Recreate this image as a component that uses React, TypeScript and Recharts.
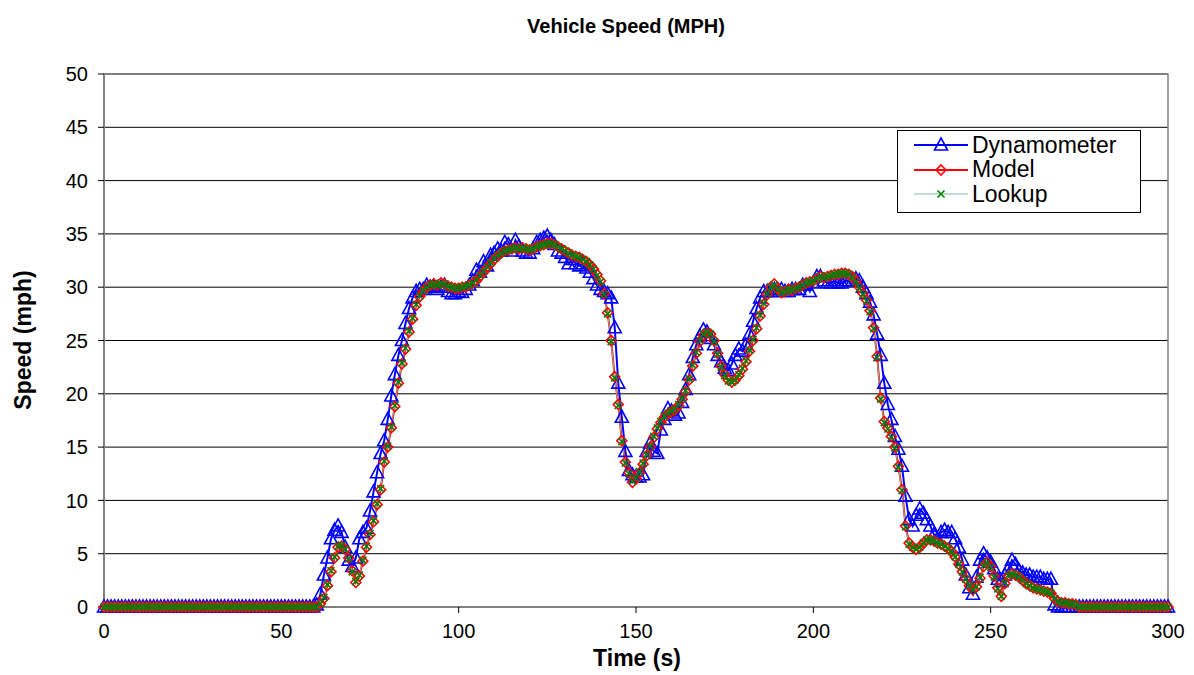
import React from "react"
import { LineChart, Line, XAxis, YAxis, CartesianGrid, ReferenceArea } from "recharts"

// speed samples, one per second, t = 0 .. 300
const times = Array.from({ length: 301 }, (_, i) => i)

const dynamometer = [
  0, 0, 0, 0, 0, 0, 0, 0, 0, 0,
  0, 0, 0, 0, 0, 0, 0, 0, 0, 0,
  0, 0, 0, 0, 0, 0, 0, 0, 0, 0,
  0, 0, 0, 0, 0, 0, 0, 0, 0, 0,
  0, 0, 0, 0, 0, 0, 0, 0, 0, 0,
  0, 0, 0, 0, 0, 0, 0, 0, 0, 0,
  0.2, 1.2, 3.0, 4.6, 6.4, 7.2, 7.6, 7.0, 5.6, 4.4,
  3.8, 4.6, 6.4, 7.0, 7.4, 9.0, 10.8, 12.6, 14.4, 15.6,
  17.6, 19.8, 21.8, 23.6, 25.0, 26.6, 28.0, 29.0, 29.6, 29.8,
  29.8, 30.2, 30.0, 30.1, 29.8, 30.0, 30.2, 29.6, 29.4, 29.4,
  29.6, 29.5, 29.8, 30.2, 30.6, 31.6, 31.4, 32.4, 32.0, 33.0,
  33.2, 33.6, 33.4, 34.2, 34.0, 33.4, 34.4, 33.8, 33.4, 33.2,
  33.2, 33.6, 34.2, 34.4, 34.6, 34.8, 34.4, 34.0, 33.4, 33.2,
  32.8, 32.2, 32.6, 32.2, 32.0, 32.2, 31.8, 31.4, 30.8, 30.2,
  29.8, 29.6, 29.4, 29.0, 26.2, 21.0, 17.8, 14.6, 12.8, 12.4,
  12.2, 12.2, 12.4, 14.6, 15.4, 14.6, 14.4, 16.6, 17.6, 18.6,
  18.4, 18.0, 18.2, 19.2, 20.4, 21.8, 23.4, 24.6, 25.4, 26.0,
  25.8, 25.2, 24.6, 23.6, 23.0, 22.4, 22.2, 22.8, 23.6, 24.2,
  24.0, 24.6, 25.6, 26.8, 28.0, 29.0, 29.6, 29.6, 29.6, 29.8,
  29.6, 29.8, 29.6, 29.6, 29.8, 29.8, 29.8, 30.2, 30.2, 29.6,
  30.4, 31.0, 31.0, 30.6, 30.4, 30.4, 30.6, 30.4, 30.4, 30.6,
  30.6, 30.6, 30.8, 30.6, 30.0, 29.4, 28.6, 27.4, 25.6, 23.6,
  21.0, 19.0, 17.6, 16.0, 14.8, 13.2, 10.4, 8.2, 7.6, 8.6,
  9.2, 8.8, 8.2, 7.6, 6.8, 6.4, 7.0, 7.2, 7.0, 7.0,
  6.4, 5.6, 4.4, 3.0, 1.8, 1.2, 2.8, 4.4, 5.0, 4.6,
  4.2, 3.6, 2.6, 2.4, 3.0, 3.6, 4.4, 4.0, 3.4, 3.2,
  3.0, 3.0, 2.8, 2.8, 2.8, 2.6, 2.6, 2.6, 0.2, 0,
  0, 0, 0, 0, 0, 0, 0, 0, 0, 0,
  0, 0, 0, 0, 0, 0, 0, 0, 0, 0,
  0, 0, 0, 0, 0, 0, 0, 0, 0, 0,
  0,
]

const model = [
  0, 0, 0, 0, 0, 0, 0, 0, 0, 0,
  0, 0, 0, 0, 0, 0, 0, 0, 0, 0,
  0, 0, 0, 0, 0, 0, 0, 0, 0, 0,
  0, 0, 0, 0, 0, 0, 0, 0, 0, 0,
  0, 0, 0, 0, 0, 0, 0, 0, 0, 0,
  0, 0, 0, 0, 0, 0, 0, 0, 0, 0,
  0, 0.3, 0.8, 2.0, 3.3, 4.6, 5.6, 5.7, 5.4, 4.6,
  3.4, 2.3, 2.9, 4.3, 5.6, 6.8, 8.0, 9.6, 11.0, 13.6,
  15.0, 16.8, 18.8, 21.0, 22.8, 24.2, 25.8, 27.0, 28.3, 29.1,
  29.6, 30.0, 30.2, 30.3, 30.2, 30.4, 30.3, 30.1, 30.0, 29.9,
  29.9, 30.0, 30.0, 30.2, 30.4, 30.6, 31.0, 31.4, 31.8, 32.2,
  32.6, 32.9, 33.2, 33.4, 33.5, 33.6, 33.7, 33.6, 33.7, 33.6,
  33.5, 33.6, 33.8, 33.9, 34.0, 34.1, 34.1, 34.0, 33.8, 33.6,
  33.4, 33.2, 33.0, 32.9, 32.8, 32.6, 32.4, 32.1, 31.7, 31.2,
  30.6, 29.4, 27.6, 25.0, 21.6, 19.0, 15.6, 13.6, 12.6, 11.7,
  12.0, 12.6, 13.4, 14.2, 15.0, 15.9, 16.7, 17.3, 17.8, 18.1,
  18.3, 18.5, 18.9, 19.5, 20.2, 21.3, 22.6, 23.8, 24.9, 25.5,
  25.7, 25.6, 25.0, 23.8, 22.6, 21.8, 21.3, 21.1, 21.3, 21.7,
  22.3, 23.0, 24.0, 25.0, 26.1, 27.3, 28.4, 29.3, 30.0, 30.3,
  29.8, 29.5, 29.6, 29.8, 29.7, 29.9, 30.0, 30.2, 30.4, 30.5,
  30.6, 30.8, 31.0, 30.9, 31.0, 31.1, 31.2, 31.2, 31.3, 31.3,
  31.2, 31.0, 30.6, 30.0, 29.4, 28.8, 27.8, 26.2, 23.5, 19.6,
  17.4, 16.8, 16.0, 15.0, 13.2, 11.0, 7.6, 6.0, 5.6, 5.4,
  5.6, 6.0, 6.3, 6.3, 6.2, 6.0, 5.9, 5.7, 5.5, 5.2,
  4.7, 4.0, 3.3, 2.6, 2.0, 1.6, 1.9, 2.7, 3.8, 4.2,
  3.8, 2.9, 1.8, 1.0, 2.2, 2.9, 3.1, 3.0, 2.8, 2.5,
  2.2, 2.0, 1.8, 1.7, 1.6, 1.5, 1.4, 1.3, 0.8, 0.5,
  0.4, 0.4, 0.3, 0.3, 0.2, 0, 0, 0, 0, 0,
  0, 0, 0, 0, 0, 0, 0, 0, 0, 0,
  0, 0, 0, 0, 0, 0, 0, 0, 0, 0,
  0,
]

const lookup = [
  0, 0, 0, 0, 0, 0, 0, 0, 0, 0,
  0, 0, 0, 0, 0, 0, 0, 0, 0, 0,
  0, 0, 0, 0, 0, 0, 0, 0, 0, 0,
  0, 0, 0, 0, 0, 0, 0, 0, 0, 0,
  0, 0, 0, 0, 0, 0, 0, 0, 0, 0,
  0, 0, 0, 0, 0, 0, 0, 0, 0, 0,
  0, 0.3, 0.9, 2.1, 3.4, 4.7, 5.7, 5.8, 5.4, 4.5,
  3.3, 2.4, 3.0, 4.4, 5.7, 6.9, 8.1, 9.7, 11.1, 13.7,
  15.1, 16.9, 18.9, 21.1, 22.9, 24.3, 25.9, 27.1, 28.4, 29.2,
  29.7, 30.0, 30.2, 30.3, 30.2, 30.3, 30.3, 30.1, 30.0, 29.9,
  29.9, 30.0, 30.1, 30.2, 30.4, 30.7, 31.1, 31.5, 31.9, 32.3,
  32.7, 33.0, 33.2, 33.4, 33.5, 33.6, 33.7, 33.6, 33.7, 33.6,
  33.5, 33.6, 33.8, 33.9, 34.0, 34.1, 34.1, 34.0, 33.8, 33.6,
  33.4, 33.2, 33.0, 32.9, 32.8, 32.6, 32.4, 32.1, 31.7, 31.1,
  30.5, 29.3, 27.5, 24.9, 21.5, 18.9, 15.5, 13.5, 12.5, 11.8,
  12.1, 12.7, 13.5, 14.3, 15.1, 16.0, 16.8, 17.4, 17.9, 18.2,
  18.4, 18.6, 19.0, 19.6, 20.3, 21.4, 22.7, 23.9, 25.0, 25.6,
  25.8, 25.6, 24.9, 23.7, 22.5, 21.7, 21.2, 21.1, 21.3, 21.8,
  22.4, 23.1, 24.1, 25.1, 26.2, 27.4, 28.5, 29.4, 30.0, 30.2,
  29.8, 29.5, 29.6, 29.8, 29.7, 29.9, 30.0, 30.2, 30.4, 30.5,
  30.6, 30.8, 31.0, 30.9, 31.0, 31.1, 31.2, 31.2, 31.3, 31.3,
  31.2, 30.9, 30.5, 29.9, 29.3, 28.7, 27.7, 26.1, 23.4, 19.5,
  17.3, 16.7, 15.9, 14.9, 13.1, 10.9, 7.5, 5.9, 5.6, 5.4,
  5.6, 6.0, 6.3, 6.3, 6.2, 6.0, 5.9, 5.7, 5.5, 5.2,
  4.7, 4.0, 3.3, 2.6, 2.0, 1.6, 1.9, 2.8, 3.9, 4.2,
  3.7, 2.8, 1.7, 1.0, 2.3, 3.0, 3.1, 3.0, 2.8, 2.5,
  2.2, 2.0, 1.8, 1.7, 1.6, 1.5, 1.4, 1.3, 0.8, 0.5,
  0.4, 0.4, 0.3, 0.3, 0.2, 0, 0, 0, 0, 0,
  0, 0, 0, 0, 0, 0, 0, 0, 0, 0,
  0, 0, 0, 0, 0, 0, 0, 0, 0, 0,
  0,
]

const xTicks = [0, 50, 100, 150, 200, 250, 300]
const yTicks = [0, 5, 10, 15, 20, 25, 30, 35, 40, 45, 50]

const chartData = times.map((t, i) => ({
  t,
  dyn: dynamometer[i],
  model: model[i],
  lookup: lookup[i],
}))

const FONT = "Arial, 'Liberation Sans', sans-serif"

const triangle = (props: any) => {
  const { cx, cy, index } = props
  if (cx == null || cy == null) return <g key={"d" + index} />
  return (
    <path
      key={"d" + index}
      d={`M${cx},${cy - 7} L${cx + 6.5},${cy + 5} L${cx - 6.5},${cy + 5} Z`}
      fill="none"
      stroke="#0000ff"
      strokeWidth={1.6}
    />
  )
}

const diamond = (props: any) => {
  const { cx, cy, index } = props
  if (cx == null || cy == null) return <g key={"m" + index} />
  return (
    <path
      key={"m" + index}
      d={`M${cx},${cy - 5} L${cx + 5},${cy} L${cx},${cy + 5} L${cx - 5},${cy} Z`}
      fill="none"
      stroke="#ff0000"
      strokeWidth={1.6}
    />
  )
}

const cross = (props: any) => {
  const { cx, cy, index } = props
  if (cx == null || cy == null) return <g key={"l" + index} />
  return (
    <path
      key={"l" + index}
      d={`M${cx - 3.5},${cy - 3.5} L${cx + 3.5},${cy + 3.5} M${cx + 3.5},${cy - 3.5} L${cx - 3.5},${cy + 3.5}`}
      stroke="#008000"
      strokeWidth={1.6}
    />
  )
}

const legendItems = [
  { name: "Dynamometer", color: "#0000ff", width: 2, marker: "tri" },
  { name: "Model", color: "#ff0000", width: 2, marker: "dia" },
  { name: "Lookup", color: "#7fbf9f", width: 1, marker: "x" },
]

const LegendBox = () => (
  <div
    style={{
      position: "absolute",
      left: 897,
      top: 130,
      width: 244,
      height: 83,
      border: "1px solid #000",
      background: "#fff",
      boxSizing: "border-box",
      paddingTop: 2,
      fontFamily: FONT,
    }}
  >
    {legendItems.map((it) => (
      <div key={it.name} style={{ display: "flex", alignItems: "center", height: 24.5 }}>
        <svg width={62} height={20} style={{ marginLeft: 12 }}>
          <line x1={4} y1={10} x2={58} y2={10} stroke={it.color} strokeWidth={it.width} />
          {it.marker === "tri" && triangle({ cx: 31, cy: 10, index: "lg" })}
          {it.marker === "dia" && diamond({ cx: 31, cy: 10, index: "lg" })}
          {it.marker === "x" && cross({ cx: 31, cy: 10, index: "lg" })}
        </svg>
        <span style={{ fontSize: 23, color: "#000", marginLeft: 0 }}>{it.name}</span>
      </div>
    ))}
  </div>
)

export default function App() {
  return (
    <div style={{ position: "relative", width: 1194, height: 675, background: "#fff", fontFamily: FONT }}>
      <style>{`body{margin:0}`}</style>
      <div
        style={{
          position: "absolute",
          top: 15,
          left: 0,
          width: 1252,
          textAlign: "center",
          fontWeight: "bold",
          fontSize: 20,
        }}
      >
        Vehicle Speed (MPH)
      </div>
      <LineChart
        width={1194}
        height={675}
        data={chartData}
        margin={{ top: 74, right: 26, bottom: 38, left: 40 }}
      >
        <CartesianGrid horizontal vertical={false} stroke="#000" strokeOpacity={1} />
        <XAxis
          dataKey="t"
          type="number"
          domain={[0, 300]}
          ticks={xTicks}
          interval={0}
          height={30}
          tickSize={6}
          tickMargin={11}
          axisLine={{ stroke: "#808080", strokeWidth: 2 }}
          tickLine={{ stroke: "#000" }}
          tick={{ fill: "#000", fontSize: 20, fontFamily: FONT }}
        />
        <YAxis
          type="number"
          domain={[0, 50]}
          ticks={yTicks}
          interval={0}
          width={64}
          tickSize={6}
          tickMargin={10}
          axisLine={{ stroke: "#808080", strokeWidth: 2 }}
          tickLine={{ stroke: "#000" }}
          tick={{ fill: "#000", fontSize: 20, fontFamily: FONT }}
        />
        <ReferenceArea x1={0} x2={300} y1={0} y2={50} fill="none" stroke="#808080" strokeWidth={1.5} ifOverflow="visible" />
        <Line
          dataKey="dyn"
          stroke="#0000ff"
          strokeWidth={2}
          dot={triangle}
          isAnimationActive={false}
        />
        <Line
          dataKey="model"
          stroke="#ff0000"
          strokeWidth={2}
          dot={diamond}
          isAnimationActive={false}
        />
        <Line
          dataKey="lookup"
          stroke="#7fbf9f"
          strokeWidth={1}
          dot={cross}
          isAnimationActive={false}
        />
      </LineChart>
      <LegendBox />
      <div
        style={{
          position: "absolute",
          left: 23,
          top: 340,
          transform: "translate(-50%, -50%) rotate(-90deg)",
          fontWeight: "bold",
          fontSize: 23,
          whiteSpace: "nowrap",
        }}
      >
        Speed (mph)
      </div>
      <div
        style={{
          position: "absolute",
          left: 637,
          top: 645,
          transform: "translateX(-50%)",
          fontWeight: "bold",
          fontSize: 23,
          whiteSpace: "nowrap",
        }}
      >
        Time (s)
      </div>
    </div>
  )
}
